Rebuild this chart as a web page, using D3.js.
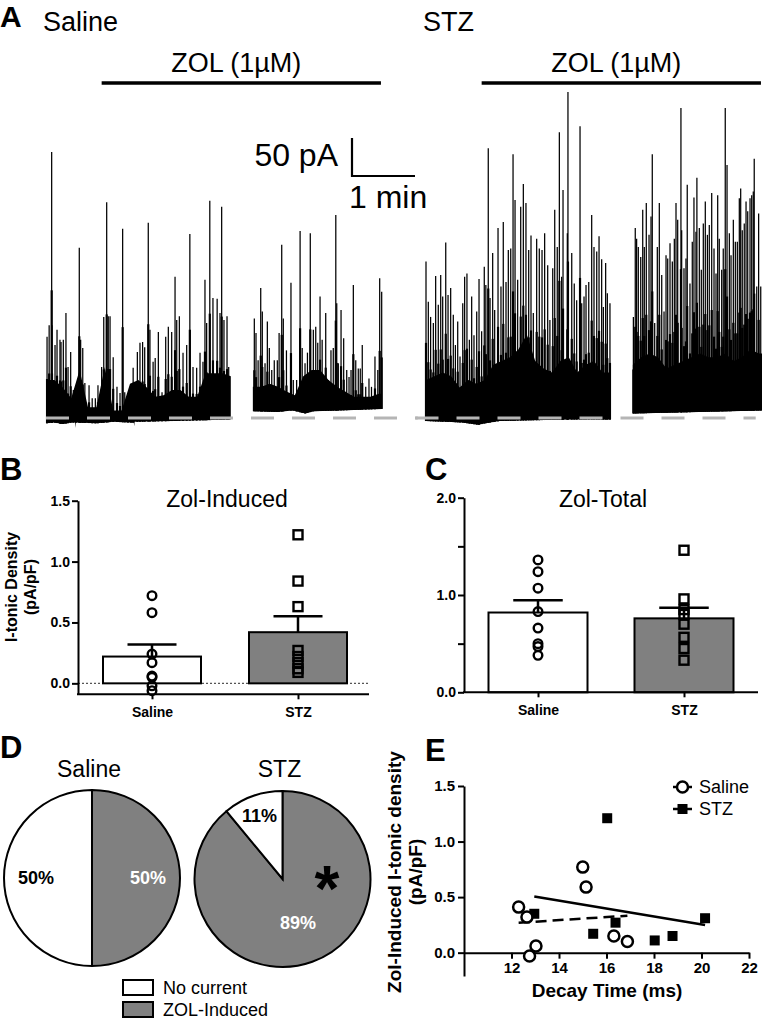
<!DOCTYPE html>
<html><head><meta charset="utf-8">
<script src="https://cdn.jsdelivr.net/npm/d3@7"></script>
<style>
body{margin:0;background:#fff}
svg{display:block;font-family:"Liberation Sans",Arial,Helvetica,sans-serif}
</style></head><body>
<svg id="chart" width="763" height="1020"></svg>
<script>
// ================= DATA =================
// Panel A traces: [time (s), current (pA)]
const salineSeg1Spikes=[[1,107],[3,122],[5.4,350],[5.7,122],[8.6,96],[10.5,116],[13.3,103],[14.3,100],[16.5,103],[19,138],[21,67],[23.5,87],[26,37],[28.6,33],[31.7,224],[33,103],[35,92],[37,46],[41,43],[44,26],[47,26],[49.5,43],[53,67],[55,133],[57.8,284],[59.3,134],[61,134],[64,80],[67.6,41],[70.5,33],[73,249],[75,34],[78,13],[81,24],[83,66],[87,87],[89.5,99],[92,100],[94,93],[97.4,257],[99,116],[102,74],[104,79],[107,113],[110.5,34],[114,107],[116.5,120],[119.7,113],[122.9,186],[124.5,129],[127,134],[130.5,86],[134,96],[137,242],[140,67],[143.5,66],[146.7,86],[149.5,74],[151.4,182],[153,125],[156,286],[159,158],[163,157],[165.7,138],[167.3,278],[169.5,129],[172.4,134],[174,67]];
const salineSeg1Core=[[0,50],[8,50],[16,40],[24,26],[32,63],[40,14],[48,14],[56,67],[64,10],[72,10],[80,45],[88,50],[96,40],[104,28],[112,30],[120,37],[128,37],[136,28],[144,28],[152,59],[160,59],[168,59],[176,55]];
const salineSeg1Floor=[[0,-7],[8,-6],[16,-8],[24,-6],[27.6,-6],[28,-13],[28.4,-6],[48,-7],[64,-5],[80,-6],[83.6,-6],[84,-11],[84.4,-5],[120,-4],[150,-3],[176,-2]];
const salineSeg2Spikes=[[198.4,131],[200,112],[202,76],[204.5,171],[206,140],[208.6,72],[210.8,127],[212.7,92],[215,63],[217.4,76],[220.3,76],[222,112],[224.5,228],[226,131],[229,89],[233.3,178],[235.5,50],[238.7,50],[242,246],[244,92],[246.7,72],[249,86],[251.7,243],[254.6,116],[256.9,120],[258.8,99],[261,160],[263,103],[266.4,138],[269,50],[271.4,89],[273.6,92],[276,267],[276.9,151],[278.4,72],[281,142],[283.5,105],[286.4,63],[288.6,54],[290.5,63],[292.7,175],[295,76],[297.4,65],[299.3,65],[301.2,96],[304.5,41],[307.6,52],[310,41],[313.3,81],[316,63],[317.8,184],[319.7,166]];
const salineSeg2Core=[[197,41],[205,41],[213,45],[221,41],[229,35],[237,30],[245,55],[253,63],[261,63],[269,50],[277,41],[285,35],[293,28],[301,28],[309,28],[317,32],[320,32]];
const salineSeg2Floor=[[197,9],[220,8],[235,10],[247,6],[255,9],[280,10],[300,11],[320,12]];
const stzSeg1Spikes=[[0,206],[2.2,153],[4.4,133],[7,125],[9.2,187],[11.7,149],[14,188],[15.9,160],[18.8,231],[21,162],[23.5,171],[26,136],[28,96],[30.2,127],[32.4,81],[35,151],[36.8,186],[39,190],[41.3,103],[43.5,160],[45.7,109],[48.3,140],[50.5,183],[53,114],[55.5,199],[57,175],[59.3,355],[61,158],[63.5,217],[65.4,142],[68.6,250],[71.4,173],[73.6,258],[76.2,179],[78.4,221],[80.7,223],[82.9,347],[84.8,287],[87.3,182],[90.2,278],[92.7,308],[95.2,283],[97.8,221],[100,240],[102.2,138],[105.4,236],[107.9,223],[110.5,221],[113,243],[115.9,201],[118,129],[120.7,197],[122.6,274],[125,225],[127,376],[129.2,186],[130.5,300],[134.6,243],[135.2,429],[138.8,217],[141.2,177],[143.5,155],[146.7,384],[148.3,151],[150.5,160],[152.4,175],[155,179],[157.8,267],[160,225],[162.6,219],[164.8,239],[167.3,209],[168.9,146],[171.1,204],[172.7,164],[175.2,151]];
const stzSeg1Core=[[0,50],[8,55],[16,60],[24,55],[32,40],[40,50],[48,45],[56,50],[64,70],[72,75],[80,80],[88,90],[96,110],[104,75],[112,65],[120,60],[128,75],[136,80],[144,60],[152,70],[160,75],[168,60],[176,60]];
const stzSeg1Floor=[[0,-4],[20,-5],[35,-6],[50,-9],[56,-7],[70,-4],[100,-3],[140,-2],[176,-2]];
const stzSeg2Spikes=[[197.5,133],[199.3,250],[200.6,236],[202.2,225],[204.5,212],[206.4,274],[207.9,225],[209.8,283],[212.4,241],[214.3,265],[215.5,347],[217.8,125],[220.3,225],[222.2,283],[224.5,188],[226.7,140],[228.6,214],[230.2,210],[232.4,230],[234.6,206],[236.5,236],[238.1,283],[239.7,261],[242.8,408],[243.5,247],[245.7,197],[247.6,210],[248.8,307],[251.4,177],[253.6,232],[255.2,290],[257.1,245],[258,316],[260.3,250],[262.2,195],[264.1,256],[266,285],[268,241],[269.8,254],[272.1,296],[274.3,223],[276.2,190],[277.8,293],[279.3,236],[281.6,195],[283.1,223],[285,408],[286.7,333],[288.9,243],[290.5,214],[292.7,261],[294.6,232],[296.5,232],[298.4,289],[299.7,302],[301.2,247],[303.1,256],[304.8,285],[306.4,272],[308.6,289],[310.2,293],[311.7,298],[312.6,341],[315,173],[316.8,269],[318.8,173]];
const stzSeg2Core=[[197,70],[205,80],[213,85],[221,80],[229,65],[237,70],[245,75],[253,80],[261,85],[269,80],[277,80],[285,85],[293,75],[301,80],[309,90],[317,85],[320,85]];
const stzSeg2Floor=[[197,6],[230,7],[260,8],[290,9],[320,10]];
const zolPeriod=[53,319];          // s, drug application
const scaleBarValues=[50,60];      // 50 pA, 60 s

// Panels B & C
const barGroups=["Saline","STZ"];
const zolInducedMean=[0.22,0.42];
const zolInducedSem=[0.10,0.13];
const zolInducedSaline=[0.72,0.58,0.24,0.17,0.06,0.05,-0.02,-0.06];
const zolInducedSTZ=[1.22,0.84,0.63,0.27,0.22,0.17,0.12,0.09];
const zolTotalMean=[0.82,0.76];
const zolTotalSem=[0.125,0.11];
const zolTotalSaline=[1.36,1.24,1.07,0.83,0.66,0.50,0.47,0.38];
const zolTotalSTZ=[1.46,0.96,0.85,0.80,0.70,0.565,0.45,0.33];
const yTicksB=[0,0.5,1.0,1.5];
const yTicksC=[0,0.5,1.0,1.5,2.0];

// Panel D
const pieCategories=["ZOL-Induced","No current"];
const pieSaline=[50,50];
const pieSTZ=[89,11];

// Panel E
const decaySaline=[12.3,12.65,12.76,13.03,15.0,15.14,16.31,16.88];
const densitySaline=[0.41,0.32,-0.03,0.06,0.77,0.59,0.15,0.10];
const decaySTZ=[12.96,16.03,16.38,15.44,18.03,18.78,20.15];
const densitySTZ=[0.35,1.21,0.27,0.17,0.11,0.15,0.31];
const xTicksE=[12,14,16,18,20,22];
const yTicksE=[0,0.5,1.0,1.5];

// ================= DRAW =================
const svg=d3.select("#chart");
const GREY="#808080";

function txt(g,x,y,s,size,opt={}){
  const t=g.append("text").attr("x",x).attr("y",y).text(s).attr("font-size",size);
  if(opt.bold) t.attr("font-weight","bold");
  if(opt.anchor) t.attr("text-anchor",opt.anchor);
  if(opt.fill) t.attr("fill",opt.fill);
  if(opt.rotate) t.attr("transform",`rotate(-90 ${x} ${y})`);
  return t;
}

// ---------- Panel A ----------
const gA=svg.append("g");
txt(gA,0,27,"A",30,{bold:true});
const yTrace=d3.scaleLinear().domain([0,50]).range([418,380]);
const traces=[
  {name:"Saline",x0:46,segs:[[salineSeg1Spikes,salineSeg1Core,salineSeg1Floor],[salineSeg2Spikes,salineSeg2Core,salineSeg2Floor]],base:[0,354]},
  {name:"STZ",x0:426,segs:[[stzSeg1Spikes,stzSeg1Core,stzSeg1Floor],[stzSeg2Spikes,stzSeg2Core,stzSeg2Floor]],base:[-10,314]}
];
traces.forEach(tr=>{
  const x=d3.scaleLinear().domain([0,320]).range([tr.x0,tr.x0+336]);
  const g=gA.append("g");
  txt(g,tr.x0-3,31,tr.name,27);
  tr.segs.forEach(([spikes,core,floor])=>{
    const fl=d3.scaleLinear().domain(floor.map(d=>d[0])).range(floor.map(d=>d[1])).clamp(true);
    const poly=core.map(d=>[x(d[0]),yTrace(d[1])]).concat(floor.slice().reverse().map(d=>[x(d[0]),yTrace(d[1])]));
    g.append("path").attr("d","M"+poly.map(p=>p.join(",")).join("L")+"Z").attr("fill","#000");
    // thicker lower body of each event (dense trace texture)
    g.selectAll(null).data(spikes).join("line")
      .attr("x1",d=>x(d[0])).attr("x2",d=>x(d[0]))
      .attr("y1",d=>yTrace(fl(d[0]))).attr("y2",d=>yTrace(d[1]*0.48))
      .attr("stroke","#000").attr("stroke-width",2.2);
    g.selectAll(null).data(spikes).join("line")
      .attr("x1",d=>x(d[0])).attr("x2",d=>x(d[0]))
      .attr("y1",d=>yTrace(fl(d[0]))).attr("y2",d=>yTrace(d[1]))
      .attr("stroke","#000").attr("stroke-width",1.25);
  });
  g.append("line").attr("x1",x(tr.base[0])).attr("x2",x(tr.base[1]))
    .attr("y1",yTrace(0)).attr("y2",yTrace(0))
    .attr("stroke","#b5b5b5").attr("stroke-width",3).attr("stroke-dasharray","23,18");
  g.append("line").attr("x1",x(zolPeriod[0])).attr("x2",x(zolPeriod[1]))
    .attr("y1",83).attr("y2",83).attr("stroke","#000").attr("stroke-width",3.5);
  txt(g,(x(zolPeriod[0])+x(zolPeriod[1]))/2-5,72,"ZOL (1µM)",27,{anchor:"middle"});
  if(tr.name==="Saline"){
    const sx=352, sy=176;
    const vLen=yTrace(0)-yTrace(scaleBarValues[0]);
    const hLen=x(scaleBarValues[1])-x(0);
    g.append("path").attr("d",`M${sx},${sy-vLen}L${sx},${sy}L${sx+hLen},${sy}`)
      .attr("fill","none").attr("stroke","#000").attr("stroke-width",2.2);
    txt(g,338,166,"50 pA",32,{anchor:"end"});
    txt(g,349,208,"1 min",32);
  }
});

// ---------- Panels B & C ----------
function barPanel(o){
  const g=svg.append("g");
  const y=d3.scaleLinear().domain(o.yDomain).range(o.yRange);
  const x=d3.scalePoint().domain(barGroups).range(o.xCenters);
  const y0=y(0), yb=o.yRange[0];
  txt(g,o.letterX,480,o.letter,31,{bold:true});
  txt(g,o.titleX,507,o.title,23,{anchor:"middle"});
  if(o.zeroLine){
    g.append("line").attr("x1",o.axisX).attr("x2",o.xEnd).attr("y1",y0).attr("y2",y0)
     .attr("stroke","#555").attr("stroke-width",1.2).attr("stroke-dasharray","2,2");
  }
  g.selectAll(null).data(barGroups).join("rect")
    .attr("x",d=>x(d)-o.bw/2).attr("width",o.bw)
    .attr("y",(d,i)=>y(o.mean[i])).attr("height",(d,i)=>y0-y(o.mean[i]))
    .attr("fill",(d,i)=>i===0?"#fff":GREY).attr("stroke","#000").attr("stroke-width",2);
  barGroups.forEach((d,i)=>{
    const top=y(o.mean[i]+o.sem[i]);
    g.append("line").attr("x1",x(d)).attr("x2",x(d)).attr("y1",y(o.mean[i])).attr("y2",top).attr("stroke","#000").attr("stroke-width",2.5);
    g.append("line").attr("x1",x(d)-o.bw/4).attr("x2",x(d)+o.bw/4).attr("y1",top).attr("y2",top).attr("stroke","#000").attr("stroke-width",2.5);
  });
  g.selectAll(null).data(o.pts[0]).join("circle")
    .attr("cx",x("Saline")).attr("cy",d=>y(d)).attr("r",4.3)
    .attr("fill","none").attr("stroke","#000").attr("stroke-width",2.4);
  g.selectAll(null).data(o.pts[1]).join("rect")
    .attr("x",x("STZ")-4.5).attr("y",d=>y(d)-4.5).attr("width",9).attr("height",9)
    .attr("fill","none").attr("stroke","#000").attr("stroke-width",2.4);
  const ay=g.append("g").attr("transform",`translate(${o.axisX},0)`)
    .call(d3.axisLeft(y).tickValues(o.yTicks).tickSize(6).tickSizeOuter(0).tickPadding(2)
      .tickFormat(d=>o.labelTick(d)?d.toFixed(1):""));
  ay.select(".domain").attr("stroke-width",2);
  ay.selectAll(".tick line").attr("stroke-width",2);
  ay.selectAll("text").attr("font-size",14).attr("font-weight","bold").attr("font-family",null);
  g.append("line").attr("x1",o.axisX-1).attr("x2",o.xEnd).attr("y1",yb).attr("y2",yb).attr("stroke","#000").attr("stroke-width",2);
  const ax=g.append("g").attr("transform",`translate(0,${yb})`)
    .call(d3.axisBottom(x).tickSize(5).tickSizeOuter(0).tickPadding(8));
  ax.select(".domain").remove();
  ax.selectAll(".tick line").attr("stroke-width",2);
  ax.selectAll("text").attr("font-size",14).attr("font-weight","bold").attr("font-family",null);
  return g;
}
const gB=barPanel({letter:"B",letterX:0,title:"Zol-Induced",titleX:227,
  yDomain:[-0.09,1.5],yRange:[694.3,500.7],xCenters:[152,298],bw:98,axisX:78,xEnd:369,
  mean:zolInducedMean,sem:zolInducedSem,pts:[zolInducedSaline,zolInducedSTZ],
  yTicks:yTicksB,labelTick:()=>true,zeroLine:true});
const gC=barPanel({letter:"C",letterX:425,title:"Zol-Total",titleX:603,
  yDomain:[0,2],yRange:[692.3,497.7],xCenters:[538,684],bw:99,axisX:464,xEnd:758,
  mean:zolTotalMean,sem:zolTotalSem,pts:[zolTotalSaline,zolTotalSTZ],
  yTicks:yTicksC,labelTick:d=>Math.abs(d-Math.round(d))<1e-9,zeroLine:false});
txt(gB,17,587,"I-tonic Density",16,{bold:true,anchor:"middle",rotate:true});
txt(gB,36,587,"(pA/pF)",16,{bold:true,anchor:"middle",rotate:true});

// ---------- Panel D ----------
const gD=svg.append("g");
txt(gD,0,758,"D",31,{bold:true});
const pieColor=d3.scaleOrdinal().domain(pieCategories).range([GREY,"#fff"]);
const pie=d3.pie().sort(null).value(d=>d);
const R=88;
const arc=d3.arc().innerRadius(0).outerRadius(R);
const pies=[
  {name:"Saline",vals:pieSaline,cx:92,cy:878,labelR:[56,56],fills:["#fff","#000"]},
  {name:"STZ",vals:pieSTZ,cx:282.5,cy:879,labelR:[46,68],fills:["#fff","#000"]}
];
pies.forEach(p=>{
  const g=gD.append("g").attr("transform",`translate(${p.cx},${p.cy})`);
  txt(gD,p.cx-3,777,p.name,23,{anchor:"middle"});
  const arcs=pie(p.vals);
  g.selectAll(null).data(arcs).join("path").attr("d",arc)
    .attr("fill",(d,i)=>pieColor(pieCategories[i])).attr("stroke","#000").attr("stroke-width",2);
  arcs.forEach((a,i)=>{
    const la=d3.arc().innerRadius(p.labelR[i]).outerRadius(p.labelR[i]);
    const c=la.centroid(a);
    g.append("text").attr("x",c[0]).attr("y",c[1]).attr("dy","0.36em").attr("text-anchor","middle")
      .attr("font-size",18).attr("font-weight","bold").attr("fill",p.fills[i]).text(p.vals[i]+"%");
  });
});
txt(gD,327,911,"*",64,{bold:true,anchor:"middle"});
pieCategories.slice().reverse().forEach((c,i)=>{
  gD.append("rect").attr("x",123).attr("y",980+i*22).attr("width",30).attr("height",15)
    .attr("fill",pieColor(c)).attr("stroke","#000").attr("stroke-width",2);
  txt(gD,163,994+i*22,c,18);
});

// ---------- Panel E ----------
const gE=svg.append("g");
txt(gE,425,761,"E",31,{bold:true});
const xE=d3.scaleLinear().domain([10,22]).range([464,749]);
const yE=d3.scaleLinear().domain([-0.21,1.5]).range([976,786]);
function linreg(xs,ys){
  const mx=d3.mean(xs),my=d3.mean(ys);
  const b=d3.sum(xs,(v,i)=>(v-mx)*(ys[i]-my))/d3.sum(xs,v=>(v-mx)*(v-mx));
  return v=>my+b*(v-mx);
}
const fitS=linreg(decaySaline,densitySaline), fitZ=linreg(decaySTZ,densitySTZ);
const exS=d3.extent(decaySaline), exZ=d3.extent(decaySTZ);
gE.append("line").attr("x1",xE(exZ[0])).attr("x2",xE(exZ[1])).attr("y1",yE(fitZ(exZ[0]))).attr("y2",yE(fitZ(exZ[1])))
  .attr("stroke","#000").attr("stroke-width",2.5);
gE.append("line").attr("x1",xE(exS[0])).attr("x2",xE(exS[1])).attr("y1",yE(fitS(exS[0]))).attr("y2",yE(fitS(exS[1])))
  .attr("stroke","#000").attr("stroke-width",2.5).attr("stroke-dasharray","11,6");
const ayE=gE.append("g").attr("transform","translate(464,0)")
  .call(d3.axisLeft(yE).tickValues(yTicksE).tickSize(6).tickSizeOuter(0).tickPadding(3).tickFormat(d3.format(".1f")));
ayE.select(".domain").attr("stroke-width",2);
ayE.selectAll(".tick line").attr("stroke-width",2);
ayE.selectAll("text").attr("font-size",15).attr("font-weight","bold").attr("font-family",null);
const axE=gE.append("g").attr("transform",`translate(0,${yE(0)})`)
  .call(d3.axisBottom(xE).tickValues(xTicksE).tickSize(6).tickSizeOuter(0).tickPadding(4));
axE.select(".domain").attr("stroke-width",2);
axE.selectAll(".tick line").attr("stroke-width",2);
axE.selectAll("text").attr("font-size",15).attr("font-weight","bold").attr("font-family",null);
gE.selectAll(null).data(decaySTZ).join("rect")
  .attr("x",d=>xE(d)-5).attr("y",(d,i)=>yE(densitySTZ[i])-5).attr("width",10).attr("height",10).attr("fill","#000");
gE.selectAll(null).data(decaySaline).join("circle")
  .attr("cx",d=>xE(d)).attr("cy",(d,i)=>yE(densitySaline[i])).attr("r",5.5)
  .attr("fill","#fff").attr("stroke","#000").attr("stroke-width",2.5);
txt(gE,607,997,"Decay Time (ms)",19,{bold:true,anchor:"middle"});
txt(gE,401,872,"Zol-Induced I-tonic density",19,{bold:true,anchor:"middle",rotate:true});
txt(gE,422,872,"(pA/pF)",19,{bold:true,anchor:"middle",rotate:true});
[["Saline",787],["STZ",809]].forEach(([n,ly],i)=>{
  gE.append("line").attr("x1",673).attr("x2",692).attr("y1",ly).attr("y2",ly).attr("stroke","#000").attr("stroke-width",2.5);
  if(i===0) gE.append("circle").attr("cx",682.5).attr("cy",ly).attr("r",5.5).attr("fill","#fff").attr("stroke","#000").attr("stroke-width",2.5);
  else gE.append("rect").attr("x",677.5).attr("y",ly-5).attr("width",10).attr("height",10).attr("fill","#000");
  txt(gE,699,ly+6,n,18);
});
</script></body></html>
